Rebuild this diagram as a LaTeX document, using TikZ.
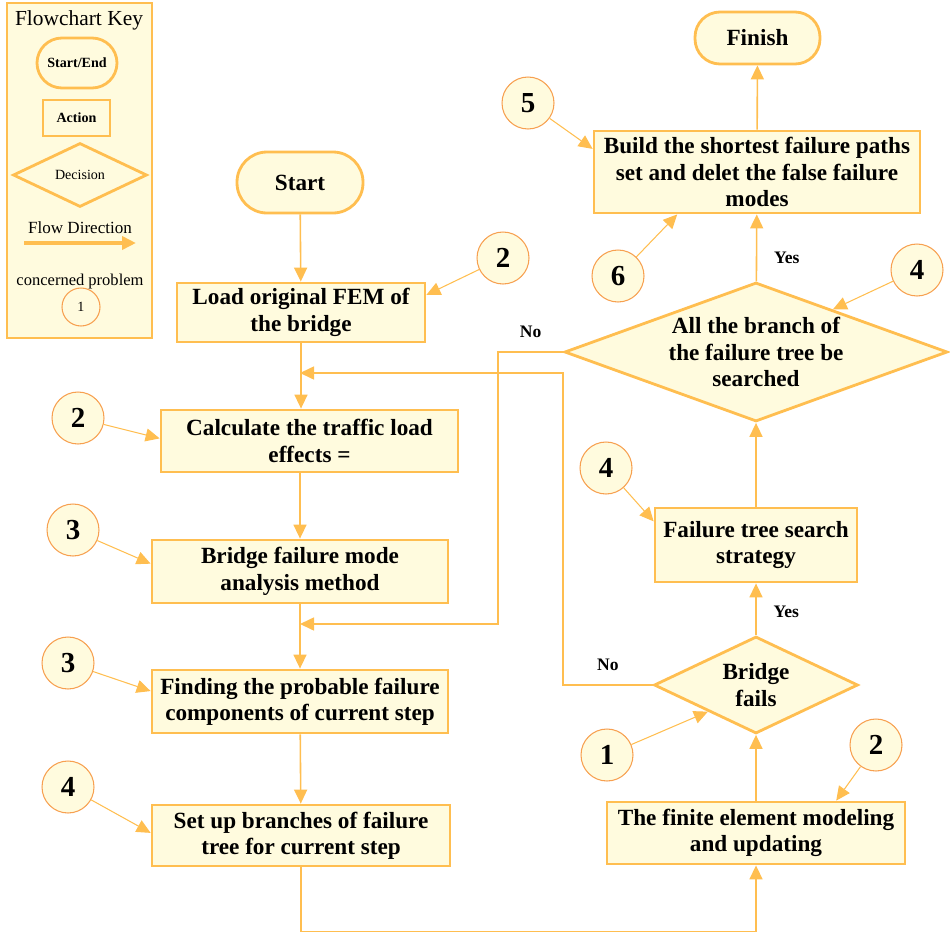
\documentclass[tikz,border=0pt]{standalone}
\usepackage{fontspec}
\setmainfont{Liberation Serif}
\usepackage{tikz}
\usetikzlibrary{shapes.geometric, arrows.meta, positioning, calc}
\definecolor{cFill}{RGB}{255,251,222}
\definecolor{cLine}{RGB}{255,190,80}
\definecolor{cRing}{RGB}{247,160,80}
\tikzset{
	boxfont/.style  ={font=\fontsize{13.2}{15}\selectfont\bfseries},
	terminal/.style ={rectangle, rounded corners=0.5cm, draw=cLine, line width=1.6pt, fill=cFill, align=center, inner sep=0pt, boxfont},
	action/.style   ={rectangle, draw=cLine, line width=1.6pt, fill=cFill, align=center, inner sep=0pt, boxfont},
	decision/.style ={diamond, draw=cLine, line width=1.6pt, fill=cFill, align=center, inner sep=0pt, boxfont},
	prob/.style     ={circle, draw=cRing, line width=0.6pt, fill=cFill, minimum size=1.04cm, inner sep=0pt, font=\fontsize{16.5}{18}\selectfont\bfseries},
	flow/.style     ={-{Triangle[length=0.28cm, width=0.26cm]}, draw=cLine, line width=0.9pt},
	probarrow/.style={-{Triangle[length=0.28cm, width=0.26cm]}, draw=cLine, line width=0.6pt},
	answer/.style   ={font=\fontsize{10}{12}\selectfont\bfseries},
	% key styles
	keybox/.style   ={rectangle, draw=cLine, line width=1.2pt, fill=cFill, minimum width=2.9cm, minimum height=6.7cm},
	keysmall/.style ={font=\fontsize{8}{9}\selectfont\bfseries},
}

\begin{document}
\begin{tikzpicture}[x=0.02cm, y=-0.02cm]
	\useasboundingbox (0,0) rectangle (950,933);
	% flowchart key
	\node[keybox] (key) at (79.5,170.5) {};
	\node[font=\fontsize{12.2}{14}\selectfont] (keytitle) at (79,20) {Flowchart Key};
	\node[terminal, minimum width=1.6cm, minimum height=1.0cm, keysmall] (keyend) at (77,63) {Start/End};
	\node[action, minimum width=1.34cm, minimum height=0.72cm, keysmall] (keyact) at (76.5,118) {Action};
	\node[decision, minimum width=2.68cm, minimum height=1.28cm, aspect=2.1, font=\fontsize{8}{9}\selectfont] (keydec) at (80,175) {Decision};
	\node[font=\fontsize{9.7}{11}\selectfont] (keyflow) at (80,228) {Flow Direction};
	\coordinate (keya) at (24,243);
	\coordinate (keyb) at (136,243);
	\draw[flow, line width=2pt] (keya) -- (keyb);
	\node[font=\fontsize{9.4}{11}\selectfont] (keyprob) at (80,282) {concerned problem};
	\node[prob, minimum size=0.76cm, font=\fontsize{8}{9}\selectfont] (keynum) at (81,307) {1};

	% left column
	\node[terminal, minimum width=2.52cm, minimum height=1.22cm, rounded corners=0.6cm] (start) at (300,182.5) {Start};
	\node[action, minimum width=4.96cm, minimum height=1.18cm] (load) at (301,312.5) {Load original FEM of\\the bridge};
	\node[action, minimum width=5.94cm, minimum height=1.24cm] (calc) at (309.5,441) {Calculate the traffic load\\effects =};
	\node[action, minimum width=5.92cm, minimum height=1.26cm] (mode) at (300,571.5) {Bridge failure mode\\analysis method};
	\node[action, minimum width=5.92cm, minimum height=1.26cm] (find) at (300,701.5) {Finding the probable failure\\components of current step};
	\node[action, minimum width=5.96cm, minimum height=1.22cm] (setup) at (301,835.5) {Set up branches of failure\\tree for current step};

	% right column
	\node[action, minimum width=5.96cm, minimum height=1.24cm] (fem) at (756,833) {The finite element modeling\\and updating};
	\node[decision, minimum width=4.08cm, minimum height=1.94cm, aspect=2.1] (fails) at (756,685) {Bridge\\fails};
	\node[action, minimum width=4.04cm, minimum height=1.48cm] (search) at (756,545) {Failure tree search\\strategy};
	\node[decision, minimum width=7.66cm, minimum height=2.78cm, aspect=2.76] (branch) at (756,352) {All the branch of\\the failure tree be\\searched};
	\node[action, minimum width=6.52cm, minimum height=1.64cm] (build) at (757,172) {Build the shortest failure paths\\set and delet the false failure\\modes};
	\node[terminal, minimum width=2.5cm, minimum height=1.04cm] (finish) at (757.5,38) {Finish};

	\coordinate (joinA) at (300,373);
	\coordinate (joinB) at (300,624);

	% main flow
	\draw[flow] (start) -- (load);
	\draw[flow] (load.south) -- (load.south |- calc.north);
	\draw[flow] (calc.south -| mode.north) -- (mode.north);
	\draw[flow] (mode) -- (find);
	\draw[flow] (find) -- (setup);
	\draw[flow] (setup.south) -- ++(0,64) -| (fem.south);
	\draw[flow] (fem) -- (fails);
	\draw[flow] (fails) -- node[answer, right=0.22cm, pos=0.45] {Yes} (search);
	\draw[flow] (search) -- (branch);
	\draw[flow] (branch) -- node[answer, right=0.22cm, pos=0.35] {Yes} (build);
	\draw[flow] (build) -- (finish);
	\draw[flow] (branch.west) -- node[answer, above=0.15cm] {No} ++(-65,0) |- (joinB);
	\draw[flow] (fails.west) -- node[answer, above=0.15cm] {No} (branch.west |- fails.west) |- (joinA);

	% concerned problems
	\foreach \n/\x/\y/\t in {pa/528/103/5, pb/618/276/6, pc/917/270/4, pd/503/258/2, pe/78/418/2, pf/73/530/3,
		pg/606/468/4, ph/68/663/3, pi/607/755/1, pj/68/787/4, pk/876/745/2}
		\node[prob] (\n) at (\x,\y) {\t};
	\foreach \s/\t in {pa/build.172, pb/build.208, pc/branch.29, pd/load.8, pe/calc.179, pf/mode.177,
		pg/search.167, ph/find.176, pi/fails.209, pj/setup.179, pk/fem.22}
		\draw[probarrow] (\s) -- (\t);
\end{tikzpicture}
\end{document}
